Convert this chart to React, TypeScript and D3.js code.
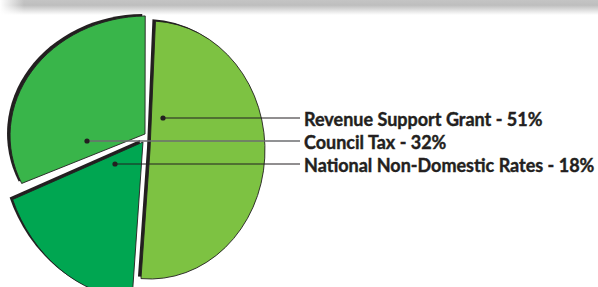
import React, { useEffect, useRef } from "react";
import * as d3 from "d3";

// values
const categories = ["Revenue Support Grant", "Council Tax", "National Non-Domestic Rates"];
const shares = [51, 32, 18];
const colours = ["#7dc242", "#39b54a", "#00a651"];

// the original pie is hand-exploded and a bit distorted, so each piece gets its own placement
const placement = [
  { x: 150, y: 150, rx: 115, ry: 129, rotate: 0, dot: [13, -33] },
  { x: 145, y: 134, rx: 135, ry: 118, rotate: -3, dot: [-58, 6] },
  { x: 143, y: 142, rx: 140, ry: 158, rotate: 0, dot: [-28, 22] },
];

const W = 598;
const H = 287;

const App = () => {
  const svgRef = useRef<SVGSVGElement>(null);

  useEffect(() => {
    const svg = d3.select(svgRef.current);
    svg.selectAll("*").remove();

    const defs = svg.append("defs");
    const band = defs
      .append("linearGradient")
      .attr("id", "band")
      .attr("x1", 0)
      .attr("y1", 0)
      .attr("x2", 0)
      .attr("y2", 1);
    band.append("stop").attr("offset", 0).attr("stop-color", "#c4c4c4");
    band.append("stop").attr("offset", 0.35).attr("stop-color", "#bebebe");
    band.append("stop").attr("offset", 1).attr("stop-color", "#ffffff");
    const fade = defs.append("linearGradient").attr("id", "fade");
    fade.append("stop").attr("offset", 0).attr("stop-color", "#fff").attr("stop-opacity", 1);
    fade.append("stop").attr("offset", 1).attr("stop-color", "#fff").attr("stop-opacity", 0);

    svg.append("rect").attr("width", W).attr("height", 15).attr("fill", "url(#band)");
    svg.append("rect").attr("width", 24).attr("height", 15).attr("fill", "url(#fade)");

    const toRad = (deg: number) => (deg * Math.PI) / 180;
    const start = 184.5;
    const pie = d3
      .pie<number>()
      .sort(null)
      .startAngle(toRad(start))
      .endAngle(toRad(start - 360));
    const arcs = pie(shares);

    const R = 100;
    const arc = d3.arc<d3.PieArcDatum<number>>().innerRadius(0).outerRadius(R);

    const place = (i: number) => {
      const p = placement[i];
      return `translate(${p.x},${p.y}) rotate(${p.rotate}) scale(${p.rx / R},${p.ry / R})`;
    };

    // black shadow up and to the left of each piece
    const shadow = svg.append("g").attr("transform", "translate(-3,-2)");
    shadow
      .selectAll("path")
      .data(arcs)
      .join("path")
      .attr("transform", (d, i) => place(i))
      .attr("d", arc)
      .attr("fill", "#231f20");

    svg
      .append("g")
      .selectAll("path")
      .data(arcs)
      .join("path")
      .attr("transform", (d, i) => place(i))
      .attr("d", arc)
      .attr("fill", (d, i) => colours[i])
      .attr("stroke", "#231f20")
      .attr("stroke-width", 0.9)
      .attr("vector-effect", "non-scaling-stroke");

    // leaders and labels
    const rowY = d3.scalePoint<string>().domain(categories).range([118, 164]);
    const labelX = 304;

    categories.forEach((c, i) => {
      const p = placement[i];
      const cx = p.x + p.dot[0];
      const y = rowY(c)!;
      svg
        .append("line")
        .attr("x1", cx)
        .attr("x2", labelX - 4)
        .attr("y1", y)
        .attr("y2", y)
        .attr("stroke", i === 1 ? "#6d6e70" : "#231f20")
        .attr("stroke-width", i === 1 ? 1.6 : 1);
      svg.append("circle").attr("cx", cx).attr("cy", y).attr("r", 2.6).attr("fill", "#231f20");
      svg
        .append("text")
        .attr("x", labelX)
        .attr("y", y + 7.5)
        .attr("font-family", "Lato, sans-serif")
        .attr("font-weight", 700)
        .attr("font-size", 18)
        .attr("fill", "#231f20")
        .attr("stroke", "#231f20")
        .attr("stroke-width", 0.4)
        .text(`${c} - ${shares[i]}%`);
    });
  }, []);

  return (
    <svg
      ref={svgRef}
      width={W}
      height={H}
      style={{ position: "absolute", left: 0, top: 0, background: "#fff" }}
    />
  );
};

export default App;
